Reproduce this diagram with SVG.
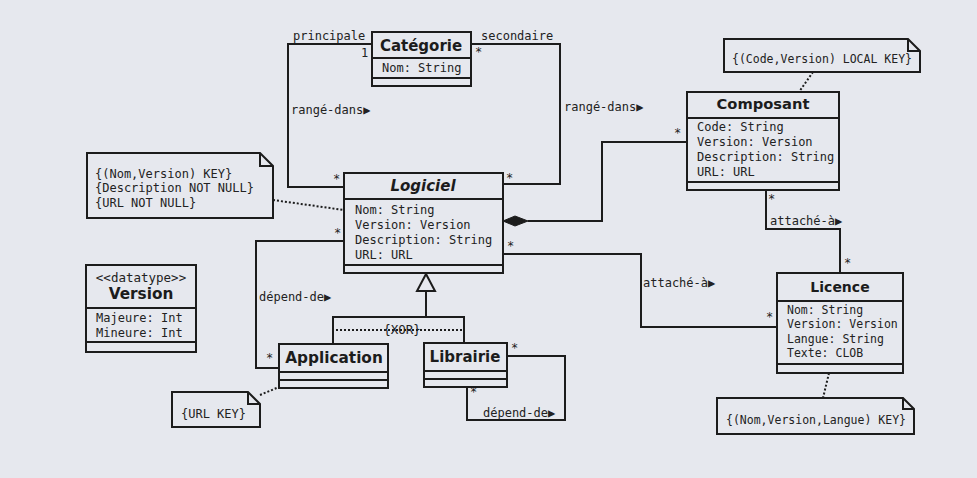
<svg xmlns="http://www.w3.org/2000/svg" width="977" height="478" viewBox="0 0 977 478">
<style>
.box{fill:#e6e8ee;stroke:#1c1c1c;stroke-width:2}
.ln{fill:none;stroke:#1c1c1c;stroke-width:2}
.dot{fill:none;stroke:#1c1c1c;stroke-width:2;stroke-dasharray:2 2}
.t{font-family:"DejaVu Sans",sans-serif;font-weight:bold;fill:#1c1c1c;text-anchor:middle}
.a{font-family:"DejaVu Sans Mono",monospace;font-size:12px;fill:#222}
.s{font-family:"DejaVu Sans Mono",monospace;font-size:11.5px;fill:#222}
.m{font-family:"DejaVu Sans Mono",monospace;font-size:12px;fill:#222}
</style>
<rect x="0" y="0" width="977" height="478" fill="#e6e8ee"/>

<g id="connectors">
  <!-- rangé-dans principale -->
  <polyline class="ln" points="372,44 288,44 288,187 344,187"/>
  <!-- rangé-dans secondaire -->
  <polyline class="ln" points="471,44 560,44 560,184 503,184"/>
  <!-- composition -->
  <polyline class="ln" points="528,221 602,221 602,142 687,142"/>
  <polygon points="503,221 515,216 528,221 515,226" fill="#1c1c1c" stroke="#1c1c1c" stroke-width="1"/>
  <!-- composant-licence -->
  <polyline class="ln" points="766,190 766,229 840,229 840,273"/>
  <!-- logiciel-licence -->
  <polyline class="ln" points="503,254 641,254 641,327 777,327"/>
  <!-- application depend-de -->
  <polyline class="ln" points="344,241 256,241 256,368 279,368"/>
  <!-- generalization -->
  <polyline class="ln" points="333,344 333,317 464,317 464,343"/>
  <line class="ln" x1="426" y1="317" x2="426" y2="291"/>
  <polygon points="426,274 417,291 435,291" fill="#e6e8ee" stroke="#1c1c1c" stroke-width="2"/>
  <line class="dot" x1="336" y1="330" x2="464" y2="330"/>
  <!-- librairie self -->
  <polyline class="ln" points="507,356 565,356 565,420 467,420 467,387"/>
  <!-- note links -->
  <line class="dot" x1="273" y1="200" x2="344" y2="210"/>
  <line class="dot" x1="813" y1="72" x2="799" y2="92"/>
  <line class="dot" x1="829" y1="373" x2="823" y2="398"/>
  <line class="dot" x1="260" y1="395" x2="279" y2="387"/>

  <text class="m" x="293" y="40">principale</text>
  <text class="m" x="361" y="57">1</text>
  <text class="m" x="481" y="40">secondaire</text>
  <text class="m" x="475" y="56">*</text>
  <text class="m" x="291" y="114">rangé-dans▶</text>
  <text class="m" x="564" y="111">rangé-dans▶</text>
  <text class="m" x="333" y="183">*</text>
  <text class="m" x="506" y="182">*</text>
  <text class="m" x="674" y="137">*</text>
  <text class="m" x="768" y="203">*</text>
  <text class="m" x="770" y="225">attaché-à▶</text>
  <text class="m" x="844" y="267">*</text>
  <text class="m" x="507" y="250">*</text>
  <text class="m" x="643" y="287">attaché-à▶</text>
  <text class="m" x="766" y="321">*</text>
  <text class="m" x="334" y="237">*</text>
  <text class="m" x="259" y="301">dépend-de▶</text>
  <text class="m" x="266" y="362">*</text>
  <text class="m" x="511" y="352">*</text>
  <text class="m" x="470" y="396">*</text>
  <text class="m" x="483" y="417">dépend-de▶</text>
  <text x="402" y="334" font-family="DejaVu Sans Mono,monospace" font-size="12.5px" fill="#222" text-anchor="middle">{XOR}</text>
</g>

<g id="categorie">
  <rect class="box" x="372" y="32" width="99" height="54"/>
  <line class="ln" x1="372" y1="58" x2="471" y2="58"/>
  <line class="ln" x1="372" y1="78" x2="471" y2="78"/>
  <text class="t" x="421" y="51" font-size="15">Catégorie</text>
  <text class="a" x="382" y="72">Nom: String</text>
</g>

<g id="logiciel">
  <rect class="box" x="344" y="173" width="159" height="100"/>
  <line class="ln" x1="344" y1="199" x2="503" y2="199"/>
  <line class="ln" x1="344" y1="265" x2="503" y2="265"/>
  <text class="t" x="423" y="191" font-size="15" font-style="italic">Logiciel</text>
  <text class="a" x="355" y="214">Nom: String</text>
  <text class="a" x="355" y="229">Version: Version</text>
  <text class="a" x="355" y="244">Description: String</text>
  <text class="a" x="355" y="259">URL: URL</text>
</g>

<g id="note-logiciel">
  <path class="box" d="M87,153 L260,153 L273,166 L273,218 L87,218 Z"/>
  <polyline class="ln" points="260,153 260,166 273,166" stroke-width="1"/>
  <text class="m" x="95" y="178">{(Nom,Version) KEY}</text>
  <text class="m" x="95" y="192">{Description NOT NULL}</text>
  <text class="m" x="95" y="207">{URL NOT NULL}</text>
</g>

<g id="composant">
  <rect class="box" x="687" y="92" width="152" height="98"/>
  <line class="ln" x1="687" y1="118" x2="839" y2="118"/>
  <line class="ln" x1="687" y1="182" x2="839" y2="182"/>
  <text class="t" x="763" y="109" font-size="14.7">Composant</text>
  <text class="a" x="697" y="131">Code: String</text>
  <text class="a" x="697" y="146">Version: Version</text>
  <text class="a" x="697" y="161">Description: String</text>
  <text class="a" x="697" y="176">URL: URL</text>
</g>

<g id="note-composant">
  <path class="box" d="M724,39 L908,39 L920,51 L920,72 L724,72 Z"/>
  <polyline class="ln" points="908,39 908,51 920,51" stroke-width="1"/>
  <text class="s" x="732" y="63">{(Code,Version) LOCAL KEY}</text>
</g>

<g id="licence">
  <rect class="box" x="777" y="273" width="126" height="100"/>
  <line class="ln" x1="777" y1="301" x2="903" y2="301"/>
  <line class="ln" x1="777" y1="364" x2="903" y2="364"/>
  <text class="t" x="840" y="292" font-size="14">Licence</text>
  <text class="s" x="787" y="314">Nom: String</text>
  <text class="s" x="787" y="328">Version: Version</text>
  <text class="s" x="787" y="343">Langue: String</text>
  <text class="s" x="787" y="357">Texte: CLOB</text>
</g>

<g id="note-licence">
  <path class="box" d="M717,398 L903,398 L914,409 L914,434 L717,434 Z"/>
  <polyline class="ln" points="903,398 903,409 914,409" stroke-width="1"/>
  <text class="s" x="726" y="424">{(Nom,Version,Langue) KEY}</text>
</g>

<g id="version">
  <rect class="box" x="86" y="265" width="110" height="87"/>
  <line class="ln" x1="86" y1="308" x2="196" y2="308"/>
  <line class="ln" x1="86" y1="342" x2="196" y2="342"/>
  <text x="141" y="282" font-family="DejaVu Sans Mono,monospace" font-size="12.5px" fill="#222" text-anchor="middle">&lt;&lt;datatype&gt;&gt;</text>
  <text class="t" x="141" y="299" font-size="15.3">Version</text>
  <text class="a" x="96" y="322">Majeure: Int</text>
  <text class="a" x="96" y="337">Mineure: Int</text>
</g>

<g id="application">
  <rect class="box" x="279" y="344" width="109" height="44"/>
  <line class="ln" x1="279" y1="372" x2="388" y2="372"/>
  <line class="ln" x1="279" y1="380" x2="388" y2="380"/>
  <text class="t" x="334" y="363" font-size="15.3">Application</text>
</g>

<g id="librairie">
  <rect class="box" x="424" y="343" width="83" height="44"/>
  <line class="ln" x1="424" y1="371" x2="507" y2="371"/>
  <line class="ln" x1="424" y1="379" x2="507" y2="379"/>
  <text class="t" x="465" y="362" font-size="15">Librairie</text>
</g>

<g id="note-application">
  <path class="box" d="M172,392 L248,392 L260,404 L260,427 L172,427 Z"/>
  <polyline class="ln" points="248,392 248,404 260,404" stroke-width="1"/>
  <text class="m" x="181" y="418">{URL KEY}</text>
</g>
</svg>
